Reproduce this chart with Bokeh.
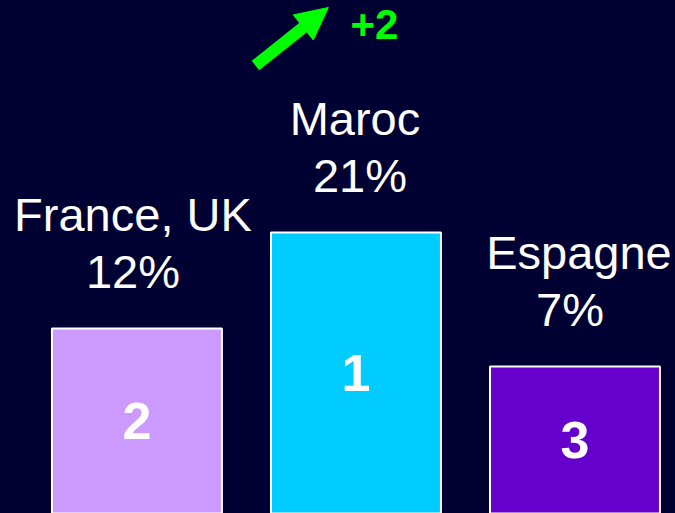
from bokeh.plotting import figure
from bokeh.models import ColumnDataSource, Range1d, Arrow, NormalHead
from bokeh.core.properties import value
from bokeh.embed import file_html
from bokeh.resources import INLINE

# ---- data ----
countries = ["France, UK", "Maroc", "Espagne"]
shares = ["12%", "21%", "7%"]
ranks = ["2", "1", "3"]
podium_height = [185, 281, 147]
colors = ["#CC99FF", "#00CCFF", "#6600CC"]
change_label = "+2"

BG = "#000033"
FONT = "Liberation Sans"

idx = list(range(len(countries)))
src = ColumnDataSource(dict(
    x=idx,
    top=podium_height,
    mid=[h / 2 for h in podium_height],
    name=countries,
    share=shares,
    rank=ranks,
    color=colors,
    name_dx=[-4, -1, 4],
    share_dx=[-4, 4, -5],
))

p = figure(width=675, height=513, output_backend="svg", toolbar_location=None,
           x_range=Range1d(-0.623, 2.459), y_range=Range1d(0, 513),
           background_fill_color=BG, border_fill_color=BG,
           min_border=0)
p.axis.visible = False
p.grid.visible = False
p.outline_line_color = None

p.vbar(x="x", top="top", bottom=-5, width=0.776, fill_color="color",
       line_color="white", line_width=2, source=src)

p.text(x="x", y="top", text="name", x_offset="name_dx", y_offset=-114,
       text_align="center", text_baseline="alphabetic",
       text_font=value(FONT), text_font_size="47px", text_color="white", source=src)
p.text(x="x", y="top", text="share", x_offset="share_dx", y_offset=-57,
       text_align="center", text_baseline="alphabetic",
       text_font=value(FONT), text_font_size="47px", text_color="white", source=src)
p.text(x="x", y="mid", text="rank", text_align="center", text_baseline="middle",
       text_font=value(FONT), text_font_size="52px", text_font_style="bold",
       text_color="white", source=src)

# improvement arrow for the leader
p.add_layout(Arrow(x_start=0.541, y_start=448, x_end=0.874, y_end=506,
                   line_color="#00FF00", line_width=12,
                   end=NormalHead(size=32, fill_color="#00FF00", line_color="#00FF00")))
p.text(x=[1.084], y=[489], text=[change_label], text_align="center", text_baseline="middle",
       text_font=value(FONT), text_font_size="42px", text_font_style="bold",
       text_color="#00FF00")

html = file_html(p, INLINE)
html = html.replace("</head>", "<style>html,body{background:#000033;}</style></head>", 1)
open("out.html", "w").write(html)
